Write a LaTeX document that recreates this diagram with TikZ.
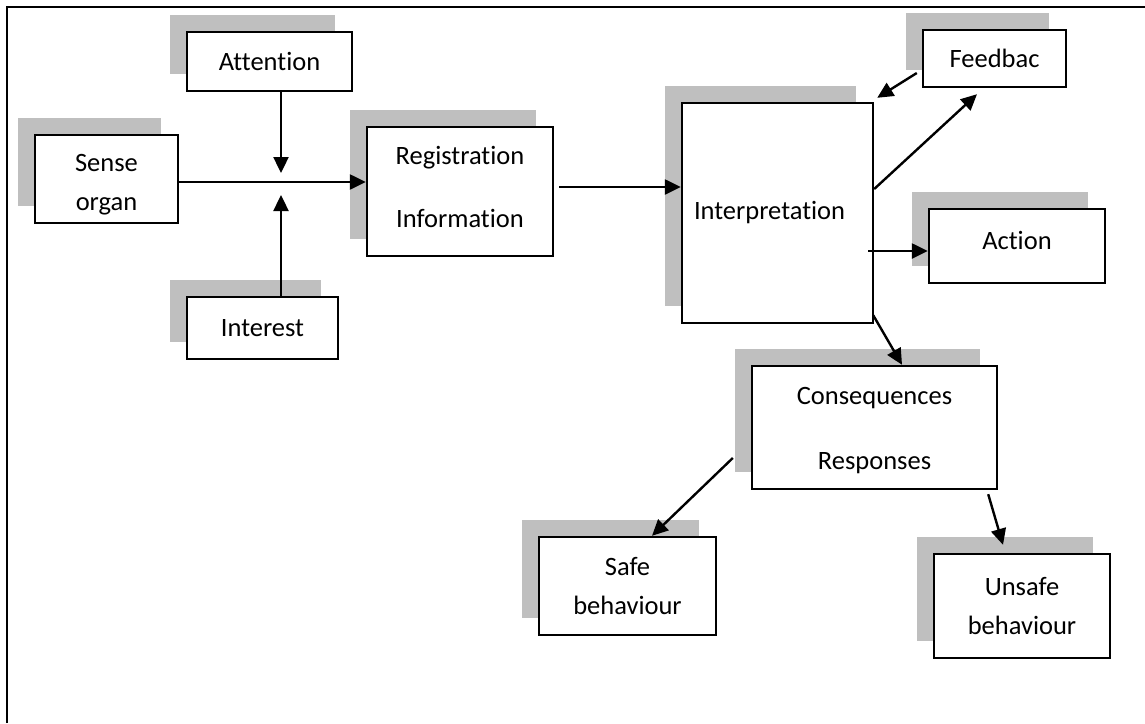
\documentclass[tikz,border=0pt]{standalone}
\usepackage{fontspec}
\setmainfont[Ligatures={NoCommon}]{Carlito}
\usetikzlibrary{arrows.meta,shadows,calc}
\definecolor{shgray}{RGB}{191,191,191}
\begin{document}
\begin{tikzpicture}[x=0.5pt,y=-0.5pt,
  box/.style={draw=black, line width=1.2pt, fill=white, inner sep=0pt,
    general shadow={fill=shgray, shadow xshift=-8.5pt, shadow yshift=8.5pt},
    align=center, font=\fontsize{13.25}{19.5}\selectfont},
  arr/.style={line width=1.2pt, -{Triangle[length=8pt,width=7.5pt]}}]
\useasboundingbox (0,0) rectangle (1145,723);
\draw[line width=1.2pt] (7,723) -- (7,7) -- (1145,7);

\node[box, minimum width=82.5pt, minimum height=29.5pt] (att) at (269.5,61.5) {Attention};
\node[box, minimum width=71.5pt, minimum height=44pt] (sense) at (106.5,179) {\rule{0pt}{14.5pt}Sense\\organ};
\node[box, minimum width=75.5pt, minimum height=31pt] (int) at (262.5,328) {Interest};
\node[box, minimum width=93pt, minimum height=64.5pt] (reg) at (460,191.5) {Registration\\[12pt]Information\rule[-5pt]{0pt}{0pt}};
\node[box, minimum height=110pt, text width=83.5pt, inner xsep=6pt, align=left] (interp) at (777.5,213) {Interpretation};
\node[box, minimum width=71.5pt, minimum height=28.5pt] (feed) at (994.5,58.5) {Feedbac};
\node[box, minimum width=88pt, minimum height=37pt] (act) at (1017,246) {\raisebox{6pt}{Action}};
\node[box, minimum width=122.5pt, minimum height=61.5pt] (cons) at (874.5,427.5) {\rule{0pt}{12pt}Consequences\\[13pt]Responses};
\node[box, minimum width=88.5pt, minimum height=49pt] (safe) at (627.5,586) {Safe\\behaviour};
\node[box, minimum width=88pt, minimum height=52pt] (unsafe) at (1022,606) {Unsafe\\behaviour};

\coordinate (j) at (281,182);
\draw[arr] (sense.east |- j) -- (j -| reg.west);
\draw[arr] (att.south -| j) -- ($(j)+(0,-9)$);
\draw[arr] (int.north -| j) -- ($(j)+(0,13)$);

\coordinate (r1) at ($(reg.east)+(5,-4.5)$);
\draw[arr] (r1) -- (r1 -| interp.west);

\draw[arr] ($(interp.east)+(0,-24)$) -- ($(feed.south)+(-17.5,6)$);
\draw[arr] ($(feed.west)+(-5,14.5)$) -- ($(interp.north east)+(3,-4)$);

\coordinate (a1) at ($(interp.east)+(-6,38)$);
\draw[arr] (a1) -- (a1 -| act.west);

\draw[arr] ($(interp.south east)+(-1,-9)$) -- ($(cons.north)+(27.5,0)$);
\draw[arr] ($(cons.west)+(-18,30.5)$) -- ($(safe.north)+(24.5,0)$);
\draw[arr] ($(cons.south east)+(-10,4)$) -- ($(unsafe.north)+(-19,-8)$);
\end{tikzpicture}
\end{document}
